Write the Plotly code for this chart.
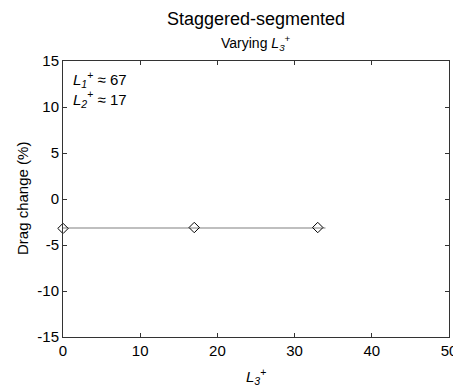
import plotly.graph_objects as go

L3 = [0, 17, 33]
drag = [-3.2, -3.1, -3.1]
fit_x = [0, 34]
fit_y = [-3.15, -3.15]
x_ticks = [0, 10, 20, 30, 40, 50]
y_ticks = [-15, -10, -5, 0, 5, 10, 15]
y_tick_text = ["-15", "-10", "-5", "0", "5", "10", "15"]

font = "Liberation Sans, Arial, sans-serif"
fig = go.Figure()
fig.add_trace(go.Scatter(x=fit_x, y=fit_y, mode="lines",
                         line=dict(color="#808080", width=1.2), showlegend=False))
fig.add_trace(go.Scatter(x=L3, y=drag, mode="markers",
                         marker=dict(symbol="diamond-open", size=8, color="black",
                                     line=dict(width=1, color="black")),
                         showlegend=False, cliponaxis=False))

axis_common = dict(showgrid=False, zeroline=False, showline=True, linecolor="#333",
                   linewidth=1, mirror="ticks", ticks="inside", ticklen=4,
                   tickcolor="#333", automargin=False,
                   tickfont=dict(family=font, size=15, color="black"))
fig.update_xaxes(range=[0, 50], tickvals=x_ticks, ticktext=[str(v) for v in x_ticks],
                 **axis_common)
fig.update_yaxes(range=[-15, 15], tickvals=y_ticks, ticktext=y_tick_text, **axis_common)

fig.add_annotation(x=0.5, y=1, xref="paper", yref="paper", yshift=42, yanchor="middle",
                   text="Staggered-segmented", showarrow=False,
                   font=dict(family=font, size=18, color="black"))
fig.add_annotation(x=0.5, y=1, xref="paper", yref="paper", yshift=18, yanchor="middle",
                   text="Varying <i>L</i><sub><i>3</i></sub><sup>+</sup>",
                   showarrow=False, font=dict(family=font, size=14, color="black"))
fig.add_annotation(x=0.02, y=0.985, xref="paper", yref="paper", yshift=-2,
                   text="<i>L</i><sub><i>1</i></sub><sup>+</sup> ≈ 67<br><i>L</i><sub><i>2</i></sub><sup>+</sup> ≈ 17",
                   showarrow=False, xanchor="left", yanchor="top", align="left",
                   font=dict(family=font, size=15, color="black"))
fig.add_annotation(x=0.5, y=0, xref="paper", yref="paper", yshift=-39, yanchor="middle",
                   text="<i>L</i><sub><i>3</i></sub><sup>+</sup>", showarrow=False,
                   font=dict(family=font, size=15, color="black"))
fig.add_annotation(x=0, y=0.5, xref="paper", yref="paper", xshift=-41, xanchor="center",
                   text="Drag change (%)", textangle=-90, showarrow=False,
                   font=dict(family=font, size=15, color="black"))

# page body has an 8px margin; compensate so the plot lands where the reference has it
fig.update_layout(width=453, height=379, plot_bgcolor="white", paper_bgcolor="white",
                  margin=dict(l=55, r=12, t=53, b=50))
fig.write_html("out.html")
